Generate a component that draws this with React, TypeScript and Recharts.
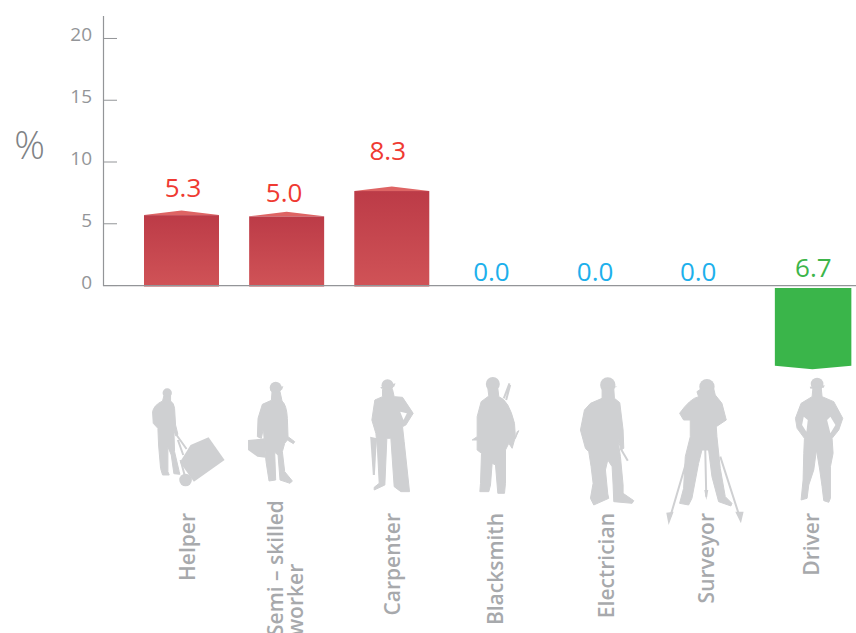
import React from 'react';
import { BarChart, Bar, XAxis, YAxis, ReferenceLine, LabelList, Label } from 'recharts';

const categories = ['Helper', 'Semi – skilled|worker', 'Carpenter', 'Blacksmith', 'Electrician', 'Surveyor', 'Driver'];
const barValues = [5.7, 5.6, 7.65, 0, 0, 0, -6.5];
const labelTexts = ['5.3', '5.0', '8.3', '0.0', '0.0', '0.0', '6.7'];
const labelColors = ['#EF3A32', '#EF3A32', '#EF3A32', '#1DB0EC', '#1DB0EC', '#1DB0EC', '#3DB54A'];
const yTicks = [0, 5, 10, 15, 20];

const data = categories.map((c, i) => ({ category: c, value: barValues[i] }));

// label placement relative to each bar (the reference's labels sit unevenly)
const labelDx = [1.5, -2.5, -4, -5.5, -7, -9, 1];
const labelDy = [-18, -14, -31, -4.5, -4.5, -4.5, -9];
const tickDx = [6, 0, 1, -1, 5, 0, 0];

const GRAY = '#CFD0D2';
const PLOT_TOP = 16;

// worker silhouettes, drawn at 3x and placed relative to each category tick
type Fig = { ox: number; oy: number; body: string; head: [number, number, number]; brim?: string; extra?: string; strokes?: string; circle?: [number, number, number]; holes?: string };
const figures: Fig[] = [
  {
    ox: -41,
    oy: 375,
    head: [80, 54, 14],
    body: 'M70 62 L90 62 L90 78 Q100 84 102 100 L105 150 L112 178 L105 182 L100 165 L102 230 L116 290 L118 298 L100 296 L92 240 L82 215 L82 290 L86 300 L66 300 L60 280 L54 210 L52 160 L38 145 L36 110 Q40 90 66 78 Z',
    extra: 'M150 210 L204 187 L252 255 L160 320 L118 262 Z',
    strokes: 'M108 180 L138 222 M112 195 L128 240 M120 255 L132 300',
    circle: [135, 315, 19],
  },
  {
    ox: -146,
    oy: 375,
    head: [405, 38, 18],
    brim: 'M388 40 L428 34 L424 44 L390 48 Z',
    body: 'M394 50 L418 50 L424 78 Q438 90 440 130 L442 185 L462 200 L458 206 L440 195 L432 205 L425 230 L432 290 L455 318 L448 325 L418 315 L412 240 L402 232 L405 315 L385 318 L376 260 L372 215 L368 160 L362 190 L350 185 L352 130 L365 88 L392 76 Z',
    extra: 'M322 195 L372 190 L374 248 L350 245 L322 225 Z',
  },
  {
    ox: -31,
    oy: 370,
    head: [80, 46, 18],
    brim: 'M58 52 L104 40 L100 50 L62 56 Z',
    body: 'M65 58 L95 58 L100 80 L125 82 L157 130 L135 165 L125 170 L130 215 L146 365 L120 365 L100 350 L90 205 L78 205 L72 345 L40 360 L40 352 L55 340 L50 240 L45 190 L33 150 L42 90 L65 80 Z',
    extra: 'M28 200 L48 205 L42 315 L36 315 Z',
    holes: 'M118 125 L138 130 L128 150 Z',
  },
  {
    ox: -136.5,
    oy: 370,
    head: [397, 42, 21],
    body: 'M382 55 L412 55 L415 80 Q445 90 462 160 L465 205 L470 185 L475 182 L462 210 L455 235 L445 220 L435 240 L435 340 L432 370 L412 370 L405 285 L395 280 L390 345 L385 365 L358 365 L360 340 L363 250 L350 240 L350 210 L335 210 L350 200 L350 140 L362 95 L385 78 Z',
    strokes: 'M430 85 L447 40 M437 90 L449 45',
  },
  {
    ox: -31.7,
    oy: 370,
    head: [112, 45, 23],
    brim: 'M110 46 L141 50 L125 55 Z',
    body: 'M95 55 L130 55 L132 85 L148 98 L158 180 L160 235 L152 240 L142 205 L150 260 L158 345 L158 370 L190 392 L185 400 L130 395 L128 345 L125 290 L112 270 L105 300 L112 372 L115 385 L70 405 L60 385 L68 340 L62 290 L55 245 L45 235 L30 180 L42 120 L60 100 L95 85 Z',
    strokes: 'M150 235 L172 272',
  },
  {
    ox: -137,
    oy: 370,
    head: [410, 50, 23],
    body: 'M395 55 L430 55 L435 75 L455 100 L468 150 L438 170 L440 200 L450 295 L465 380 L485 400 L482 408 L445 395 L425 320 L415 240 L395 240 L385 280 L365 385 L355 405 L328 400 L340 355 L345 260 L360 200 L360 150 L340 150 L328 130 Q360 85 385 80 L380 65 Z',
    extra: 'M288 428 L310 425 L295 465 Z M495 425 L520 425 L512 460 Z M402 360 L414 360 L408 390 Z',
    strokes: 'M350 270 L300 440 M450 260 L508 440 M405 240 L408 380',
  },
  {
    ox: -32,
    oy: 370,
    head: [110, 42, 19],
    brim: 'M88 50 L133 46 L130 53 L90 56 Z',
    body: 'M98 50 L122 50 L125 80 L160 95 L187 145 L175 180 L155 205 L158 250 L150 290 L150 385 L145 397 L130 392 L125 350 L118 300 L108 240 L100 300 L85 345 L80 385 L62 390 L68 330 L70 250 L72 205 L50 175 L45 145 L62 100 L95 80 Z',
    holes: 'M70 140 L65 165 L78 185 L82 150 Z M150 140 L165 165 L150 190 L140 150 Z',
  },
];

const CategoryTick = (props: any) => {
  const { x, y, payload, index } = props;
  const fig = figures[index];
  const lines = String(payload.value).split('|');
  const top = y - 372;
  return (
    <g>
      <g transform={`translate(${x + fig.ox} ${fig.oy + top}) scale(0.3333)`} fill={GRAY}>
        <circle cx={fig.head[0]} cy={fig.head[1]} r={fig.head[2]} />
        {fig.brim && <path d={fig.brim} />}
        <path d={fig.body} stroke={GRAY} strokeWidth={3} strokeLinejoin="round" />
        {fig.extra && <path d={fig.extra} />}
        {fig.strokes && <path d={fig.strokes} stroke={GRAY} strokeWidth={6} fill="none" />}
        {fig.circle && <circle cx={fig.circle[0]} cy={fig.circle[1]} r={fig.circle[2]} />}
        {fig.holes && <path d={fig.holes} fill="#fff" />}
      </g>
      {lines.length === 1 ? (
        <text
          transform={`translate(${x + tickDx[index] + 7} ${513 + top}) rotate(-90)`}
          textAnchor="end"
          fontFamily="'Open Sans', sans-serif"
          fontWeight={600}
          fontSize={21}
          fill="#A7A9AC"
        >
          {lines[0]}
        </text>
      ) : (
        lines.map((line, i) => (
          <text
            key={line}
            transform={`translate(${x - 4 + i * 20} ${636 + top}) rotate(-90)`}
            textAnchor="start"
            fontFamily="'Open Sans', sans-serif"
            fontWeight={600}
            fontSize={21}
            fill="#A7A9AC"
          >
            {line}
          </text>
        ))
      )}
    </g>
  );
};

const ValueTick = (props: any) => {
  const { y, payload } = props;
  return (
    <g>
      <line x1={103} x2={117} y1={y} y2={y} stroke="#939598" strokeWidth={1} />
      <text x={92} y={y + 3} textAnchor="end" fontFamily="'Open Sans', sans-serif" fontSize={19} fill="#939598">
        {payload.value}
      </text>
    </g>
  );
};

const BarShape = (props: any) => {
  const { x, y, width, height, value } = props;
  const v = Array.isArray(value) ? value[1] : value;
  if (!v) return null;
  const top = Math.min(y, y + height);
  const h = Math.abs(height);
  const mid = x + width / 2;
  if (v < 0) {
    const t = top + 2.5;
    const b = top + h;
    return (
      <path
        d={`M${x} ${t} H${x + width + 1.5} V${b} L${mid} ${b + 3.5} L${x} ${b} Z`}
        fill="#3AB54A"
      />
    );
  }
  return (
    <g>
      <path d={`M${x} ${top} L${mid} ${top - 4.5} L${x + width} ${top} Z`} fill="#DE6464" />
      <rect x={x} y={top} width={width} height={h + 1} fill="url(#redBar)" />
    </g>
  );
};

const ValueLabel = (props: any) => {
  const { x, y, width, height, index } = props;
  const top = Math.min(y, y + height);
  return (
    <text
      x={x + width / 2 + labelDx[index]}
      y={top + labelDy[index]}
      textAnchor="middle"
      fontFamily="'Open Sans', sans-serif"
      fontSize={26}
      fill={labelColors[index]}
    >
      {labelTexts[index]}
    </text>
  );
};

const Axes = (props: any) => {
  const { x1, x2, y1 } = props;
  return (
    <path
      d={`M${x1 + 0.5} ${PLOT_TOP} V${y1} H${x2}`}
      fill="none"
      stroke="#939598"
      strokeWidth={1.2}
    />
  );
};

export default function App() {
  return (
    <div style={{ position: 'absolute', left: 0, top: 0, width: 856, height: 633, overflow: 'hidden', background: '#fff' }}>
      <BarChart
        width={866}
        height={633}
        data={data}
        margin={{ top: PLOT_TOP, right: 1, bottom: 0, left: 0 }}
        barCategoryGap={0}
      >
        <defs>
          <linearGradient id="redBar" x1="0" y1="0" x2="0" y2="1">
            <stop offset="0" stopColor="#BC3B47" />
            <stop offset="1" stopColor="#D05357" />
          </linearGradient>
        </defs>
        <XAxis
          dataKey="category"
          interval={0}
          axisLine={false}
          tickLine={false}
          tickSize={0}
          tickMargin={0}
          height={261}
          padding={{ left: 26, right: 0 }}
          tick={<CategoryTick />}
        />
        <YAxis
          width={103}
          domain={[-7, 21.82]}
          ticks={yTicks}
          allowDataOverflow
          axisLine={false}
          tickLine={false}
          tick={<ValueTick />}
        >
          <Label
            content={() => (
              <text x={29.5} y={159} textAnchor="middle" fontFamily="'Open Sans', sans-serif" fontWeight={300} fontSize={38} fill="#808285">
                %
              </text>
            )}
          />
        </YAxis>
        <ReferenceLine y={0} shape={<Axes />} />
        <Bar dataKey="value" barSize={75} isAnimationActive={false} shape={<BarShape />}>
          <LabelList dataKey="value" content={<ValueLabel />} />
        </Bar>
      </BarChart>
    </div>
  );
}
